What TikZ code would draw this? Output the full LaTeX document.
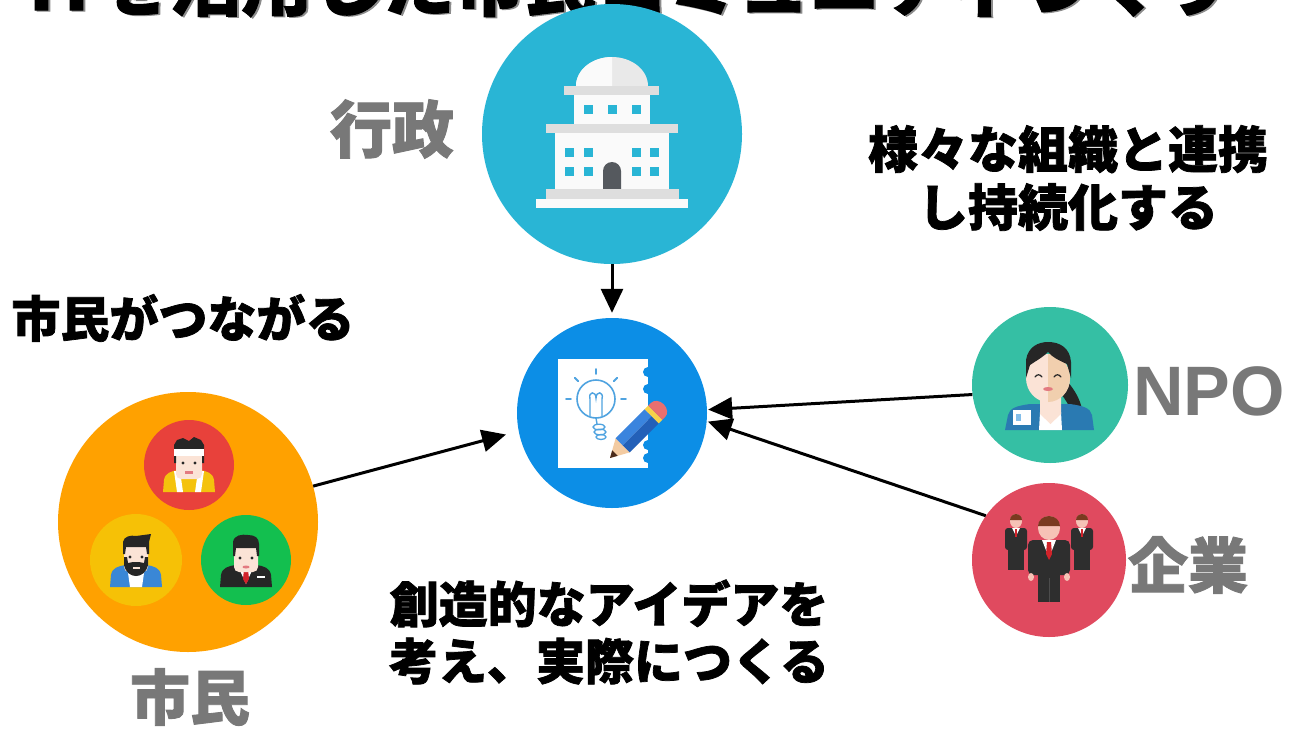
\documentclass[tikz,border=0pt]{standalone}
\usepackage{fontspec}
\newfontfamily\jp{Noto Sans CJK JP}[BoldFeatures={FakeBold=1.5}]
\newfontfamily\lat{Liberation Sans}
\usetikzlibrary{arrows.meta,calc}

\definecolor{gyoseiblue}{HTML}{29B5D5}
\definecolor{ideablue}{HTML}{0C8EE6}
\definecolor{npoteal}{HTML}{35BFA4}
\definecolor{kigyored}{HTML}{E04A5F}
\definecolor{shiminorange}{HTML}{FFA100}
\definecolor{avred}{HTML}{E8413B}
\definecolor{avyellow}{HTML}{F6C106}
\definecolor{avgreen}{HTML}{13BF4F}
\definecolor{labelgray}{HTML}{787878}
\definecolor{bldwhite}{HTML}{FAFAFA}
\definecolor{cornice}{HTML}{DEDEDE}
\definecolor{domeshade}{HTML}{E9E9E9}
\definecolor{door}{HTML}{55595E}
\definecolor{bulb}{HTML}{4FA3E0}
\definecolor{wood}{HTML}{F3CBA2}
\definecolor{lead}{HTML}{4A2A1A}
\definecolor{pencillight}{HTML}{3A84DE}
\definecolor{pencildark}{HTML}{2360B8}
\definecolor{band}{HTML}{F6D24A}
\definecolor{eraser}{HTML}{E96F6F}
\definecolor{hair}{HTML}{262626}
\definecolor{skin}{HTML}{FBE3D6}
\definecolor{skinshade}{HTML}{F1CFAE}
\definecolor{jacket}{HTML}{2A7AB2}
\definecolor{suit}{HTML}{2E2E2E}
\definecolor{brownhair}{HTML}{7A3A20}
\definecolor{pinkskin}{HTML}{F6C2B6}
\definecolor{tie}{HTML}{D2232A}
\definecolor{shirtyellow}{HTML}{F4C20D}
\definecolor{denim}{HTML}{3A87D6}
\definecolor{mouth}{HTML}{E37A80}

\tikzset{
  disc/.style={circle, inner sep=0pt, minimum size=#1},
  conn/.style={line width=3pt, -{Triangle[length=24pt,width=22pt]}},
  jptext/.style={inner sep=0pt, font=\jp\bfseries\fontsize{#1}{#1}\selectfont},
  graylabel/.style={jptext=#1, text=labelgray},
  caption/.style={inner sep=0pt, align=center},
}

\begin{document}
\begin{tikzpicture}[x=1pt,y=-1pt]
\useasboundingbox (0,0) rectangle (1290,728);
\clip (0,0) rectangle (1290,728);
\fill[white] (0,0) rectangle (1290,728);

% heading (runs off the top edge)
\node[jptext=71, text=black!45, anchor=base] (titleshade) at (632,11) {ITを活用した市民コミュニティづくり};
\node[jptext=71, anchor=base] (title) at (630,10) {ITを活用した市民コミュニティづくり};

% the five discs
\node[disc=260pt, fill=gyoseiblue] (gyosei) at (612,134) {};
\node[disc=190pt, fill=ideablue] (idea) at (612,413) {};
\node[disc=156pt, fill=npoteal] (npo) at (1050,385) {};
\node[disc=154pt, fill=kigyored] (kigyo) at (1049,560) {};
\node[disc=260pt, fill=shiminorange] (shimin) at (188,522) {};
\node[disc=90pt, fill=avred] (avA) at (189,465) {};
\node[disc=92pt, fill=avyellow] (avB) at (136,560) {};
\node[disc=90pt, fill=avgreen] (avC) at (246,560) {};

% ---- city hall ----
\fill[domeshade] (576,86) arc[start angle=180,end angle=360,x radius=36,y radius=29] -- cycle;
\fill[bldwhite] (576,86) arc[start angle=180,end angle=270,x radius=36,y radius=29] -- (612,86) -- cycle;
\fill[cornice] (564,86) rectangle (659,95);
\fill[bldwhite] (574,95) rectangle (650,124);
\foreach \wx in {588,612,636} \fill[gyoseiblue] (\wx-4.5,105) rectangle (\wx+4.5,114);
\fill[cornice] (546,124) rectangle (678,133);
\fill[bldwhite] (555,133) rectangle (669,189);
\foreach \wx in {569,588,636,654} \foreach \wy in {152,171}
  \fill[gyoseiblue] (\wx-4.5,\wy-4.5) rectangle (\wx+4.5,\wy+4.5);
\fill[door] (603,189) -- (603,171) arc[start angle=180,end angle=360,radius=9] -- (621,189) -- cycle;
\fill[cornice] (546,189) rectangle (679,199);
\fill[bldwhite] (536,199) rectangle (688,208);

% ---- idea sheet ----
\fill[white] (558,359) rectangle (648,468);
\foreach \ny in {372,389,445,458} \fill[ideablue] (648,\ny) circle[radius=5];
\draw[bulb, line width=1.6pt] (596,399) circle[radius=19];
\foreach \a in {-90,-45,-135,0,180}
  \draw[bulb, line width=1.8pt, line cap=round] ($(596,399)+(\a:25)$) -- ($(596,399)+(\a:30)$);
\draw[bulb, line width=1.4pt] (590,416) -- (590,399) .. controls (588,391) and (596,391) .. (596,398)
  .. controls (596,391) and (604,391) .. (602,399) -- (602,416);
\draw[bulb, line width=1.4pt] (596,418) -- (597,424);
\draw[bulb, line width=1.3pt] (599,427) ellipse[x radius=6,y radius=2.8];
\draw[bulb, line width=1.3pt] (600,432) ellipse[x radius=6,y radius=2.8];
\draw[bulb, line width=1.3pt] (601,437) ellipse[x radius=5,y radius=2.5];
\begin{scope}[shift={(610,458)}, rotate=45]
  \fill[wood] (0,0) -- (18,-10) -- (18,10) -- cycle;
  \fill[lead] (0,0) -- (7,-3.9) -- (7,3.9) -- cycle;
  \fill[pencillight] (18,-10) rectangle (59,0);
  \fill[pencildark] (18,0) rectangle (59,10);
  \fill[band] (59,-10) rectangle (64,10);
  \fill[eraser] (64,-10) -- (68,-10) arc[start angle=-90,end angle=90,x radius=8,y radius=10] -- (64,10) -- cycle;
\end{scope}

% ---- NPO staff ----
\fill[hair] (1064,378) .. controls (1078,392) and (1086,410) .. (1082,428) -- (1074,428)
  .. controls (1075,412) and (1066,400) .. (1058,390) -- cycle;
\fill[jacket] (1005,430) -- (1008,415) .. controls (1010,408) and (1016,406) .. (1030,404) -- (1070,404)
  .. controls (1084,406) and (1090,408) .. (1092,415) -- (1094,430) -- cycle;
\fill[white] (1039,430) -- (1040,412) -- (1061,412) -- (1062,430) -- cycle;
\fill[skin] (1040,392) -- (1061,392) -- (1061,414) -- (1050.5,424) -- (1040,414) -- cycle;
\fill[white] (1013,410) rectangle (1031,425);
\fill[bulb!70] (1016,414) rectangle (1021,421);
\fill[skin] (1048,378) ellipse[x radius=22,y radius=24];
\fill[skinshade] (1048,354) arc[start angle=-90,end angle=90,x radius=22,y radius=24] -- cycle;
\fill[hair] (1026,378) -- (1026,360) .. controls (1028,347) and (1038,342) .. (1048,342)
  .. controls (1060,342) and (1070,348) .. (1071,362) -- (1071,378) -- (1067,364)
  .. controls (1060,361) and (1052,357) .. (1048,352) .. controls (1042,358) and (1034,362) .. (1030,365) -- cycle;
\draw[hair, line width=1.2pt, line cap=round] (1035,377) .. controls (1037,374) and (1040,374) .. (1042,377);
\draw[hair, line width=1.2pt, line cap=round] (1054,377) .. controls (1056,374) and (1059,374) .. (1061,377);
\fill[mouth] (1048,389) ellipse[x radius=5,y radius=2];

% ---- company staff ----
\foreach \sx in {1016,1082} {
  \fill[suit, rounded corners=3pt] (\sx-11,550) -- (\sx-11,528) -- (\sx+11,528) -- (\sx+11,550) -- cycle;
  \fill[suit] (\sx-8,548) rectangle (\sx+8,570);
  \fill[white] (\sx-4,528) -- (\sx+4,528) -- (\sx,536) -- cycle;
  \fill[tie] (\sx-1.3,529) rectangle (\sx+1.3,537);
  \fill[pinkskin] (\sx,521) ellipse[x radius=6,y radius=7];
  \fill[brownhair] (\sx-6,520) arc[start angle=180,end angle=360,x radius=6,y radius=6] -- cycle;
}
\fill[suit, rounded corners=5pt] (1028,575) -- (1028,540) -- (1070,540) -- (1070,575) -- cycle;
\fill[suit] (1038,570) rectangle (1060,602);
\draw[black!70, line width=0.8pt] (1049,578) -- (1049,602);
\fill[pinkskin] (1031,577) ellipse[x radius=3,y radius=4];
\fill[pinkskin] (1067,577) ellipse[x radius=3,y radius=4];
\fill[white] (1042,540) -- (1056,540) -- (1049,558) -- cycle;
\fill[tie] (1047,542) -- (1051,542) -- (1052,554) -- (1049,560) -- (1046,554) -- cycle;
\fill[pinkskin] (1049,528) ellipse[x radius=11,y radius=12];
\fill[brownhair] (1038,526) arc[start angle=180,end angle=360,x radius=11,y radius=10] -- cycle;

% ---- citizens ----
\begin{scope}[shift={(189,465)}]
  \fill[shirtyellow] (-26,27) -- (-25,15) .. controls (-24,8) and (-18,6) .. (-10,5) -- (10,5)
    .. controls (18,6) and (24,8) .. (25,15) -- (26,27) -- cycle;
  \fill[white] (-15,6) -- (-9,6) -- (-6,27) -- (-12,27) -- cycle;
  \fill[white] (15,6) -- (9,6) -- (6,27) -- (12,27) -- cycle;
  \fill[skin] (-6,0) rectangle (6,10);
  \fill[skin, rounded corners=5pt] (-13,-16) rectangle (13,14);
  \fill[hair] (-15,-2) -- (-15,-20) -- (-12,-25) -- (-6,-27) -- (0,-24) -- (5,-28) -- (12,-25)
    -- (15,-20) -- (15,-2) -- (13,-2) -- (13,-10) -- (-13,-10) -- (-13,-2) -- cycle;
  \fill[white] (-15,-16) rectangle (15,-9);
  \fill[hair] (-6,-2) circle[radius=1.6];
  \fill[hair] (6,-2) circle[radius=1.6];
  \fill[mouth] (-4,6) rectangle (4,8.5);
\end{scope}
\begin{scope}[shift={(136,560)}]
  \fill[denim] (-26,27) -- (-25,15) .. controls (-24,8) and (-18,6) .. (-10,5) -- (10,5)
    .. controls (18,6) and (24,8) .. (25,15) -- (26,27) -- cycle;
  \fill[white] (-9,6) -- (9,6) -- (6,27) -- (-6,27) -- cycle;
  \fill[skin] (-6,0) rectangle (6,10);
  \fill[skin, rounded corners=5pt] (-12,-14) rectangle (12,12);
  \fill[hair] (-12,-3) -- (-12,5) .. controls (-10,13) and (-5,16) .. (0,16) .. controls (5,16) and (10,13) .. (12,5)
    -- (12,-3) -- (9,-3) -- (8,3) -- (3,2) -- (-3,2) -- (-8,3) -- (-9,-3) -- cycle;
  \fill[skin] (-3.5,7) rectangle (3.5,9);
  \fill[hair] (-13,-6) -- (-13,-18) .. controls (-12,-24) and (-5,-25) .. (0,-24) -- (15,-26) -- (13,-18)
    -- (13,-6) -- (11,-6) -- (10,-13) -- (-10,-13) -- (-11,-6) -- cycle;
  \fill[hair] (-6,-3) circle[radius=1.6];
  \fill[hair] (6,-3) circle[radius=1.6];
\end{scope}
\begin{scope}[shift={(246,560)}]
  \fill[hair] (-26,27) -- (-25,15) .. controls (-24,8) and (-18,6) .. (-10,5) -- (10,5)
    .. controls (18,6) and (24,8) .. (25,15) -- (26,27) -- cycle;
  \fill[white] (-8,6) -- (8,6) -- (0,24) -- cycle;
  \fill[tie] (-2,9) -- (2,9) -- (3,19) -- (0,24) -- (-3,19) -- cycle;
  \fill[white] (11,16) rectangle (19,18);
  \fill[skin] (-6,0) rectangle (6,10);
  \fill[skin, rounded corners=5pt] (-12,-14) rectangle (12,12);
  \fill[hair] (-13,-4) -- (-13,-18) .. controls (-12,-25) and (-4,-26) .. (2,-25) .. controls (9,-25) and (13,-22) .. (13,-16)
    -- (13,-4) -- (11,-4) -- (10,-12) -- (-10,-12) -- (-11,-4) -- cycle;
  \fill[hair] (-6,-2) circle[radius=1.6];
  \fill[hair] (6,-2) circle[radius=1.6];
  \fill[mouth] (0,7) ellipse[x radius=3.5,y radius=1.5];
\end{scope}

% ---- connectors ----
\draw[conn, shorten >=5pt] (gyosei) -- (idea);
\draw[conn, shorten >=13pt] (shimin.16) -- (idea.191);
\draw[conn, shorten >=1pt] (npo.187) -- (idea.2);
\draw[conn, shorten >=1pt] (kigyo.145) -- (idea.-5);

% ---- labels ----
\node[graylabel=62] (lblgyosei) at (392,129) {行政};
\node[inner sep=0pt, text=labelgray, font=\lat\bfseries\fontsize{70}{80}\selectfont, anchor=base] (lblnpo) at (1209,415) {NPO};
\node[graylabel=60] (lblkigyo) at (1188,565) {企業};
\node[graylabel=60] (lblshimin) at (190,697) {市民};
\node[caption, font=\jp\bfseries\fontsize{50}{58}\selectfont] (txtrenkei) at (1068,178) {様々な組織と連携\\し持続化する};
\node[caption, font=\jp\bfseries\fontsize{49}{56}\selectfont] (txtconnect) at (183,318) {市民がつながる};
\node[caption, font=\jp\bfseries\fontsize{49}{57}\selectfont] (txtidea) at (609,632) {創造的なアイデアを\\考え、実際につくる};
\end{tikzpicture}
\end{document}
